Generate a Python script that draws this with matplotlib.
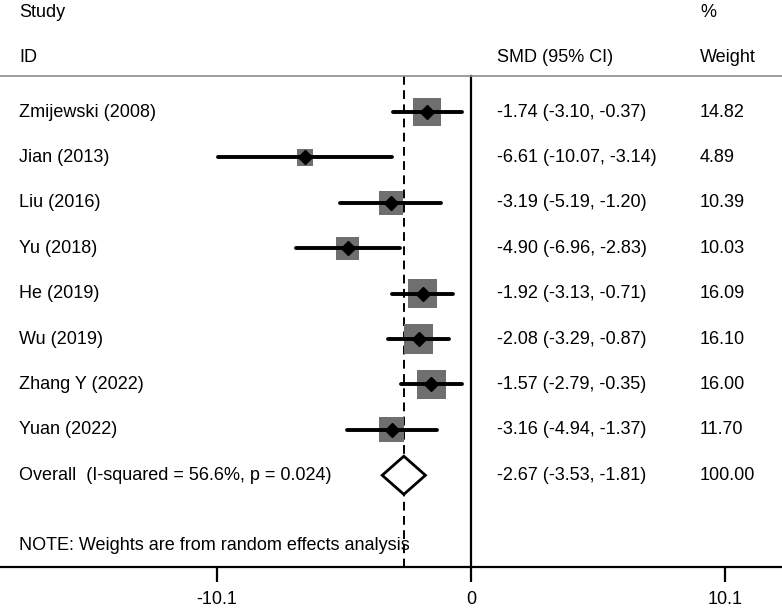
import matplotlib
matplotlib.use("Agg")
import matplotlib.pyplot as plt
from matplotlib.patches import Polygon
import matplotlib.transforms as mtransforms

plt.rcParams['font.family'] = ['Liberation Sans', 'DejaVu Sans']

studies = ['Zmijewski (2008)', 'Jian (2013)', 'Liu (2016)', 'Yu (2018)',
           'He (2019)', 'Wu (2019)', 'Zhang Y (2022)', 'Yuan (2022)']
smd = [-1.74, -6.61, -3.19, -4.90, -1.92, -2.08, -1.57, -3.16]
ci_low = [-3.10, -10.07, -5.19, -6.96, -3.13, -3.29, -2.79, -4.94]
ci_high = [-0.37, -3.14, -1.20, -2.83, -0.71, -0.87, -0.35, -1.37]
weights = [14.82, 4.89, 10.39, 10.03, 16.09, 16.10, 16.00, 11.70]

overall_label = 'Overall  (I-squared = 56.6%, p = 0.024)'
overall = (-2.67, -3.53, -1.81)
overall_weight = '100.00'
tick_vals = [-10.1, 0, 10.1]
note = 'NOTE: Weights are from random effects analysis'

fig = plt.figure(figsize=(7.82, 6.11), dpi=100)
ax = fig.add_axes([0, 44 / 611, 1, 567 / 611])
ax.set_xlim(-18.73, 12.37)
ax.set_ylim(10.02, -2.467)

for s in ['top', 'left', 'right']:
    ax.spines[s].set_visible(False)
ax.spines['bottom'].set_linewidth(1.6)
ax.set_yticks([])
ax.set_xticks(tick_vals)
ax.set_xticklabels(['-10.1', '0', '10.1'])
ax.tick_params(axis='x', length=11, width=1.6, pad=6, labelsize=13)

rows = list(range(len(studies)))
n = len(studies)

# reference lines
ax.plot([0, 0], [-0.79, 10.02], color='black', lw=1.6, clip_on=False)
ax.plot([overall[0], overall[0]], [-0.79, 10.02], color='black', lw=1.4,
        dashes=(4.5, 2.8), clip_on=False)
ax.axhline(-0.8, color='#8c8c8c', lw=1.2)

# weight squares
sizes = [(5.3 * w ** 0.5) ** 2 for w in weights]
ax.scatter(smd, rows, s=sizes, marker='s', color='#6f6f6f', zorder=3,
           linewidths=0)
# confidence intervals
for i in rows:
    ax.plot([ci_low[i], ci_high[i]], [i, i], color='black', lw=2.8,
            solid_capstyle='round', zorder=4)
ax.plot(smd, rows, linestyle='none', marker='D', markersize=7.5,
        color='black', zorder=5)

# overall diamond
h = 0.42
diamond = Polygon([(overall[1], n), (overall[0], n - h), (overall[2], n),
                   (overall[0], n + h)], closed=True, facecolor='white',
                  edgecolor='black', lw=2, zorder=5)
ax.add_patch(diamond)

# text columns
trans = mtransforms.blended_transform_factory(ax.transAxes, ax.transData)
x_lab, x_smd, x_w = 19 / 782, 497 / 782, 700 / 782
fs = 13
ax.text(x_lab, -2.2, 'Study', transform=trans, va='center', fontsize=fs)
ax.text(x_lab, -1.21, 'ID', transform=trans, va='center', fontsize=fs)
ax.text(x_smd, -1.21, 'SMD (95% CI)', transform=trans, va='center', fontsize=fs)
ax.text(x_w, -2.2, '%', transform=trans, va='center', fontsize=fs)
ax.text(x_w, -1.21, 'Weight', transform=trans, va='center', fontsize=fs)

for i in rows:
    ax.text(x_lab, i, studies[i], transform=trans, va='center', fontsize=fs)
    ax.text(x_smd, i, '%.2f (%.2f, %.2f)' % (smd[i], ci_low[i], ci_high[i]),
            transform=trans, va='center', fontsize=fs)
    ax.text(x_w, i, '%.2f' % weights[i], transform=trans, va='center',
            fontsize=fs)

ax.text(x_lab, n, overall_label, transform=trans, va='center', fontsize=fs)
ax.text(x_smd, n, '%.2f (%.2f, %.2f)' % overall, transform=trans,
        va='center', fontsize=fs)
ax.text(x_w, n, overall_weight, transform=trans, va='center', fontsize=fs)
ax.text(x_lab, 9.54, note, transform=trans, va='center', fontsize=fs)

fig.savefig('out.png', dpi=100)
